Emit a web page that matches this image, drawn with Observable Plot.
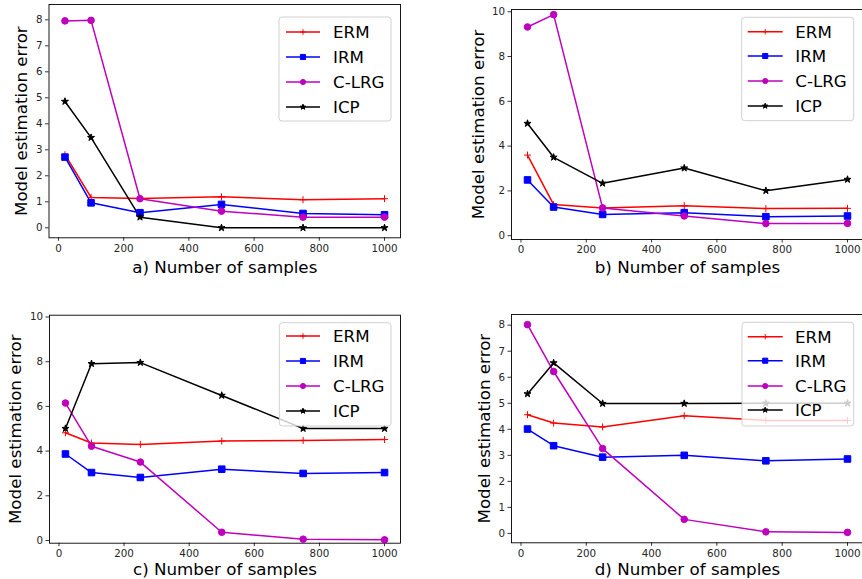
<!DOCTYPE html>
<html>
<head>
<meta charset="utf-8">
<script src="https://cdn.jsdelivr.net/npm/d3@7"></script>
<script src="https://cdn.jsdelivr.net/npm/@observablehq/plot@0.6"></script>
<style>
  html, body { margin: 0; padding: 0; background: #fff; }
  #chart { position: relative; width: 862px; height: 579px; overflow: hidden; background: #fff; font-family: "DejaVu Sans", sans-serif; }
  #chart svg { position: absolute; }
</style>
</head>
<body>
<div id="chart"></div>
<script>
// ---------- data ----------
const samples = [20, 100, 250, 500, 750, 1000];
const methods = ["ERM", "IRM", "C-LRG", "ICP"];
const xTicks = [0, 200, 400, 600, 800, 1000];
const xLabels = ["a) Number of samples", "b) Number of samples", "c) Number of samples", "d) Number of samples"];
const yLabel = "Model estimation error";

// panel a
const a_ERM  = [2.81, 1.17, 1.13, 1.19, 1.08, 1.12];
const a_IRM  = [2.72, 0.96, 0.58, 0.90, 0.55, 0.50];
const a_CLRG = [7.96, 7.98, 1.12, 0.64, 0.41, 0.41];
const a_ICP  = [4.86, 3.47, 0.41, 0.00, 0.00, 0.00];
const a_yTicks = [0, 1, 2, 3, 4, 5, 6, 7, 8];
// panel b
const b_ERM  = [3.60, 1.39, 1.24, 1.34, 1.21, 1.22];
const b_IRM  = [2.49, 1.28, 0.95, 1.03, 0.85, 0.88];
const b_CLRG = [9.32, 9.87, 1.24, 0.88, 0.54, 0.55];
const b_ICP  = [5.01, 3.50, 2.34, 3.02, 2.01, 2.51];
const b_yTicks = [0, 2, 4, 6, 8, 10];
// panel c
const c_ERM  = [4.82, 4.36, 4.30, 4.45, 4.48, 4.52];
const c_IRM  = [3.87, 3.04, 2.82, 3.19, 3.00, 3.04];
const c_CLRG = [6.15, 4.22, 3.51, 0.37, 0.06, 0.03];
const c_ICP  = [5.01, 7.91, 7.96, 6.49, 5.01, 5.01];
const c_yTicks = [0, 2, 4, 6, 8, 10];
// panel d
const d_ERM  = [4.56, 4.24, 4.09, 4.52, 4.34, 4.34];
const d_IRM  = [4.01, 3.37, 2.93, 3.00, 2.79, 2.86];
const d_CLRG = [8.02, 6.22, 3.26, 0.54, 0.06, 0.04];
const d_ICP  = [5.36, 6.55, 4.99, 4.99, 5.00, 5.00];
const d_yTicks = [0, 1, 2, 3, 4, 5, 6, 7, 8];

// ---------- styles ----------
const styles = {
  "ERM":   {color: "#ff0000", symbol: "plus",   r: 2.4},
  "IRM":   {color: "#0000ff", symbol: "square", r: 3.7},
  "C-LRG": {color: "#bf00bf", symbol: "circle", r: 3.3},
  "ICP":   {color: "#000000", symbol: "star",   r: 2.2}
};
const FONT = "DejaVu Sans";

const panels = [
  {series: [a_ERM, a_IRM, a_CLRG, a_ICP], yTicks: a_yTicks, label: xLabels[0],
   left: 0, top: 0, width: 431, height: 290, mL: 48.5, mR: 31, mT: 4, mB: 52.7,
   yDomain: [-0.385, 8.59], yLabDx: -27, xLabDy: 29.4,
   legend: {x: 279, y: 17, w: 112, h: 104, rows: [32, 57, 82, 107], lx0: 286, lx1: 320, tx: 333}},
  {series: [b_ERM, b_IRM, b_CLRG, b_ICP], yTicks: b_yTicks, label: xLabels[1],
   left: 431, top: 0, width: 440, height: 290, mL: 80, mR: 8, mT: 9, mB: 51,
   yDomain: [-0.17, 10.1], yLabDx: -33.3, xLabDy: 27.7,
   legend: {x: 741.7, y: 17.3, w: 112, h: 103.4, rows: [31.7, 56, 81, 106], lx0: 747.7, lx1: 782.7, tx: 795.3}},
  {series: [c_ERM, c_IRM, c_CLRG, c_ICP], yTicks: c_yTicks, label: xLabels[2],
   left: 0, top: 290, width: 431, height: 289, mL: 49, mR: 31, mT: 24.7, mB: 36.3,
   yDomain: [-0.12, 10.08], yLabDx: -34, xLabDy: 26.3,
   legend: {x: 279.3, y: 322.7, w: 111.7, h: 103.3, rows: [336, 361, 386, 411], lx0: 286, lx1: 320, tx: 333}},
  {series: [d_ERM, d_IRM, d_CLRG, d_ICP], yTicks: d_yTicks, label: xLabels[3],
   left: 431, top: 290, width: 440, height: 289, mL: 80, mR: 8, mT: 24, mB: 36.7,
   yDomain: [-0.36, 8.41], yLabDx: -26.7, xLabDy: 26.5,
   legend: {x: 742, y: 322.3, w: 111.7, h: 103.7, rows: [336.7, 360.7, 386, 410], lx0: 747.7, lx1: 782.7, tx: 795}}
];

const chart = document.getElementById("chart");

for (const p of panels) {
  const rows = [];
  methods.forEach((m, i) => {
    samples.forEach((s, j) => rows.push({method: m, n: s, err: p.series[i][j]}));
  });
  const marks = [
    Plot.frame({stroke: "#000", strokeWidth: 0.9}),
    Plot.axisX({ticks: xTicks, tickSize: 3.5, tickPadding: 3, tickFormat: d => String(d),
                label: null, fontSize: 10.3, fill: "#262626", stroke: "#000", strokeWidth: 0.8}),
    Plot.axisY({ticks: p.yTicks, tickSize: 3.5, tickPadding: 3, tickFormat: d => String(d),
                label: null, fontSize: 10.3, fill: "#262626", stroke: "#000", strokeWidth: 0.8}),
    Plot.text([p.label], {text: d => d, frameAnchor: "bottom", dy: p.xLabDy, lineAnchor: "middle",
                          fontSize: 16.7, fill: "#000"}),
    Plot.text([yLabel], {text: d => d, frameAnchor: "left", dx: p.yLabDx, rotate: -90,
                         lineAnchor: "middle", textAnchor: "middle", fontSize: 16.7, fill: "#000"})
  ];
  for (const m of methods) {
    const st = styles[m];
    const data = rows.filter(r => r.method === m);
    marks.push(Plot.line(data, {x: "n", y: "err", stroke: st.color, strokeWidth: 1.5}));
  }
  for (const m of methods) {
    const st = styles[m];
    const data = rows.filter(r => r.method === m);
    if (st.symbol === "plus") {
      marks.push(Plot.dot(data, {x: "n", y: "err", symbol: "plus", r: st.r, stroke: st.color, strokeWidth: 1, fill: "none"}));
    } else {
      marks.push(Plot.dot(data, {x: "n", y: "err", symbol: st.symbol, r: st.r, fill: st.color, stroke: st.color, strokeWidth: 1}));
    }
  }
  const svg = Plot.plot({
    width: p.width, height: p.height,
    marginLeft: p.mL, marginRight: p.mR, marginTop: p.mT, marginBottom: p.mB,
    x: {domain: [-29, 1049]},
    y: {domain: p.yDomain},
    style: {fontFamily: FONT, fontSize: "10.3px", background: "transparent", overflow: "visible"},
    marks
  });
  svg.style.left = p.left + "px";
  svg.style.top = p.top + "px";
  chart.appendChild(svg);
}

// ---------- legends ----------
const symMap = {plus: d3.symbolPlus, square: d3.symbolSquare, circle: d3.symbolCircle, star: d3.symbolStar};
const overlay = d3.select(chart).append("svg")
  .attr("width", 862).attr("height", 579)
  .style("left", "0px").style("top", "0px")
  .style("font-family", FONT);
for (const p of panels) {
  const L = p.legend;
  const g = overlay.append("g");
  g.append("rect").attr("x", L.x).attr("y", L.y).attr("width", L.w).attr("height", L.h)
    .attr("rx", 3).attr("fill", "#fff").attr("fill-opacity", 0.8)
    .attr("stroke", "#cccccc").attr("stroke-width", 0.9);
  methods.forEach((m, i) => {
    const st = styles[m];
    const y = L.rows[i];
    g.append("line").attr("x1", L.lx0).attr("x2", L.lx1).attr("y1", y).attr("y2", y)
      .attr("stroke", st.color).attr("stroke-width", 1.5);
    const rr = st.r * 0.78;
    const path = d3.symbol(symMap[st.symbol], Math.PI * rr * rr)();
    const sym = g.append("path").attr("d", path)
      .attr("transform", `translate(${(L.lx0 + L.lx1) / 2},${y})`);
    if (st.symbol === "plus") sym.attr("fill", "none").attr("stroke", st.color).attr("stroke-width", 1);
    else sym.attr("fill", st.color).attr("stroke", st.color).attr("stroke-width", 1);
    g.append("text").attr("x", L.tx).attr("y", y).attr("dy", "0.36em")
      .attr("font-size", 16.7).attr("fill", "#000").text(m);
  });
}
</script>
</body>
</html>
